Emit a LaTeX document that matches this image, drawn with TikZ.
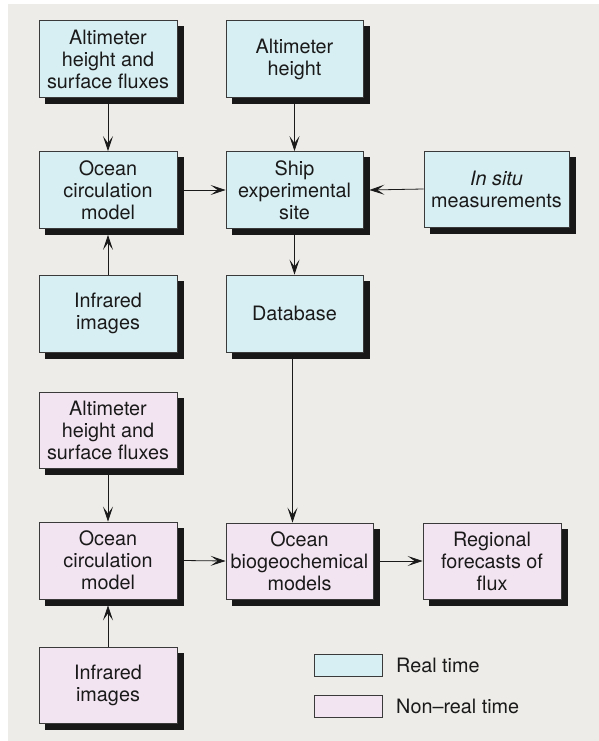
\documentclass[tikz,border=0pt]{standalone}
\usepackage{fontspec}
\setmainfont{TeX Gyre Heros}
\usetikzlibrary{arrows.meta}
\definecolor{bgc}{HTML}{EDECE8}
\definecolor{rtc}{HTML}{D7EEF2}
\definecolor{nrtc}{HTML}{F3E4F2}
\definecolor{edgec}{HTML}{3A3A3A}
\definecolor{txtc}{HTML}{1A1A1A}
\definecolor{shadc}{HTML}{181818}
\tikzset{
  boxbase/.style={draw=edgec, line width=0.8pt, inner sep=0pt, align=center,
    text=txtc, font=\fontsize{19.8}{22}\selectfont,
    minimum width=138pt, minimum height=77pt},
  rtbox/.style={boxbase, fill=rtc},
  nrtbox/.style={boxbase, fill=nrtc},
  shadowbox/.style={draw=shadc, fill=shadc, line width=0.8pt, inner sep=0pt,
    minimum width=138pt, minimum height=77pt},
  conn/.style={draw=txtc, line width=0.8pt, -{Stealth[length=15pt,width=10pt,inset=7pt]}},
  legbox/.style={draw=edgec, line width=0.8pt, minimum width=68pt, minimum height=22pt, inner sep=0pt},
  legtext/.style={anchor=west, text=txtc, inner sep=0pt, font=\fontsize{19.8}{22}\selectfont}
}
\begin{document}
\begin{tikzpicture}[x=1pt,y=-1pt]
\useasboundingbox (0,0) rectangle (599,741);
\fill[white] (0,0) rectangle (599,741);
\fill[bgc] (8,4) rectangle (599,741);

% shadow nodes (same size as the boxes, 6 right and 6 down)
\node[shadowbox] (salt1) at (114,65) {};
\node[shadowbox, minimum width=137pt] (salt2) at (300.5,65) {};
\node[shadowbox] (soc1) at (114,196) {};
\node[shadowbox, minimum width=137pt] (sship) at (300.5,196) {};
\node[shadowbox, minimum width=145pt, minimum height=76pt] (sinsitu) at (502.5,195) {};
\node[shadowbox] (sir1) at (114,319.5) {};
\node[shadowbox, minimum width=137pt] (sdb) at (300.5,319.5) {};
\node[shadowbox, minimum height=76pt] (salt3) at (114,436) {};
\node[shadowbox] (soc2) at (114,566.5) {};
\node[shadowbox, minimum width=147pt, minimum height=76pt] (sbio) at (305.5,567) {};
\node[shadowbox, minimum height=76pt] (sreg) at (498,567) {};
\node[shadowbox, minimum height=76pt] (sir2) at (114,691) {};

% real-time boxes
\node[rtbox] (alt1) at (108,59) {Altimeter\\height and\\surface fluxes};
\node[rtbox, minimum width=137pt] (alt2) at (294.5,59) {Altimeter\\height};
\node[rtbox] (oc1) at (108,190) {Ocean\\circulation\\model};
\node[rtbox, minimum width=137pt] (ship) at (294.5,190) {Ship\\experimental\\site};
\node[rtbox, minimum width=145pt, minimum height=76pt] (insitu) at (496.5,189) {\textit{In situ}\\measurements};
\node[rtbox] (ir1) at (108,313.5) {Infrared\\images};
\node[rtbox, minimum width=137pt] (db) at (294.5,313.5) {Database};

% non-real-time boxes
\node[nrtbox, minimum height=76pt] (alt3) at (108,430) {Altimeter\\height and\\surface fluxes};
\node[nrtbox] (oc2) at (108,560.5) {Ocean\\circulation\\model};
\node[nrtbox, minimum width=147pt, minimum height=76pt] (bio) at (299.5,561) {Ocean\\biogeochemical\\models};
\node[nrtbox, minimum height=76pt] (reg) at (492,561) {Regional\\forecasts of\\flux};
\node[nrtbox, minimum height=76pt] (ir2) at (108,685) {Infrared\\images};

% connectors
\draw[conn] (salt1.south -| alt1.south) -- (oc1.north);
\draw[conn] (salt2.south -| alt2.south) -- (ship.north);
\draw[conn] (soc1.east |- oc1.east) -- (ship.west);
\draw[conn] (insitu.west) -- (sship.east |- ship.east);
\draw[conn] (ir1.north) -- (soc1.south -| oc1.south);
\draw[conn] (sship.south -| ship.south) -- (db.north);
\draw[conn] (salt3.south -| alt3.south) -- (oc2.north);
\draw[conn] (ir2.north) -- (soc2.south -| oc2.south);
\draw[conn] ([xshift=-2pt]sdb.south -| db.south) -- ([xshift=-2pt]db.south |- bio.north);
\draw[conn] (soc2.east |- oc2.east) -- (bio.west);
\draw[conn] (sbio.east |- bio.east) -- (reg.west);

% legend
\node[legbox, fill=rtc] (lrt) at (348,665) {};
\node[legbox, fill=nrtc] (lnrt) at (348,706) {};
\node[legtext] (lrtt) at (396,665) {Real time};
\node[legtext] (lnrtt) at (396,706) {Non–real time};
\end{tikzpicture}
\end{document}
